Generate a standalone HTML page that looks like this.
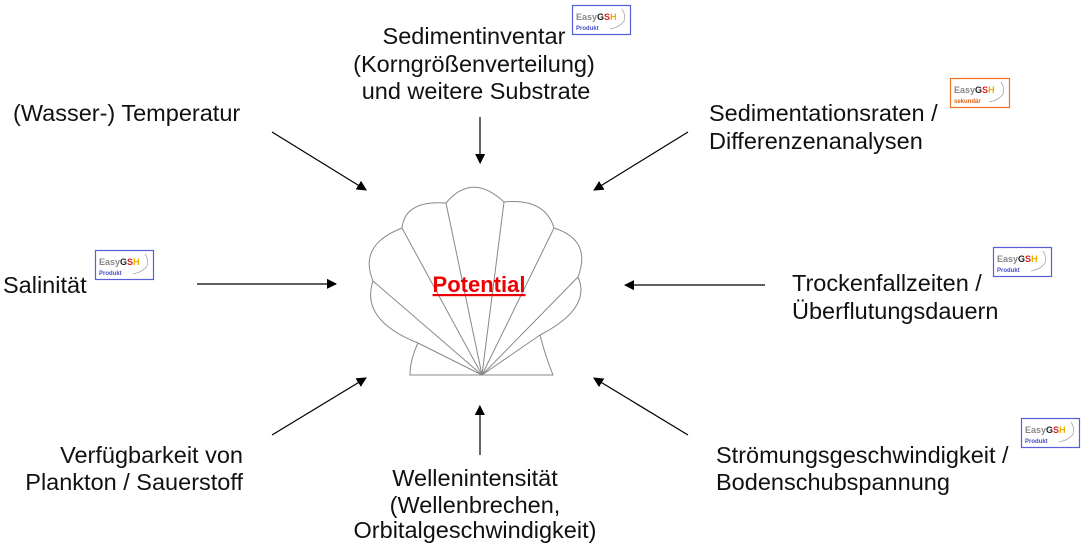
<!DOCTYPE html>
<html><head><meta charset="utf-8"><style>
html,body{margin:0;padding:0;background:#fff;}
svg{display:block;}
text{font-family:"Liberation Sans",sans-serif;font-size:23.5px;fill:#111;}
.b{font-size:9px;font-weight:bold;}
</style></head><body>
<svg width="1083" height="549" viewBox="0 0 1083 549" xmlns="http://www.w3.org/2000/svg">
<defs>
<marker id="ah" markerWidth="10" markerHeight="10" refX="9" refY="5" orient="auto" markerUnits="userSpaceOnUse" viewBox="0 0 10 10">
<path d="M0,0 L10,5 L0,10 z" fill="#000" transform="scale(1.8) translate(-4.4,-2.3)"/>
</marker>
<g id="bd">
<rect x="0.5" y="0.5" width="58" height="29" fill="#fff" stroke="#5560d8" stroke-width="1.2"/>
<text x="4" y="15" class="b" style="fill:#888">Easy<tspan style="fill:#222">G</tspan><tspan style="fill:#d22">S</tspan><tspan style="fill:#e9b000">H</tspan></text>
<text x="4" y="25" style="font-size:6px;font-weight:bold;fill:#4450c8">Produkt</text>
<path d="M50 4 Q54 10 52 16 Q48 22 38 24" fill="none" stroke="#aaa" stroke-width="0.8"/>
</g>
</defs>
<g stroke="#000" stroke-width="1.2">
<line x1="272" y1="132" x2="366" y2="190" marker-end="url(#ah)"/>
<line x1="480" y1="117" x2="480" y2="163" marker-end="url(#ah)"/>
<line x1="688" y1="132" x2="594" y2="190" marker-end="url(#ah)"/>
<line x1="197" y1="284" x2="336" y2="284" marker-end="url(#ah)"/>
<line x1="765" y1="285" x2="625" y2="285" marker-end="url(#ah)"/>
<line x1="272" y1="435" x2="366" y2="378" marker-end="url(#ah)"/>
<line x1="480" y1="455" x2="480" y2="406" marker-end="url(#ah)"/>
<line x1="688" y1="435" x2="594" y2="378" marker-end="url(#ah)"/>
</g>
<g fill="none" stroke="#888" stroke-width="1">
<path d="M418 343 Q360 320 373 281 Q358 245 402 228 Q405 200 446 203 Q472 172 504 202 Q545 198 554 228 Q592 240 578 277 Q592 308 540 335"/>
<path d="M418 343 Q410 360 410 375 L553 375 Q545 355 540 335"/>
<path d="M482 375 L446 203 M482 375 L504 202 M482 375 L402 228 M482 375 L554 228 M482 375 L373 281 M482 375 L578 277 M482 375 L418 343 M482 375 L540 335"/>
</g>
<text x="479" y="292" text-anchor="middle" style="fill:#e00;font-weight:bold;font-size:22px;text-decoration:underline">Potential</text>
<text x="13" y="121">(Wasser-) Temperatur</text>
<text x="474" y="44" text-anchor="middle">Sedimentinventar</text>
<text x="474" y="72" text-anchor="middle">(Korngrößenverteilung)</text>
<text x="476" y="99" text-anchor="middle">und weitere Substrate</text>
<text x="709" y="121">Sedimentationsraten /</text>
<text x="709" y="149">Differenzenanalysen</text>
<text x="3" y="293">Salinität</text>
<text x="792" y="291">Trockenfallzeiten /</text>
<text x="792" y="319">Überflutungsdauern</text>
<text x="243" y="463" text-anchor="end">Verfügbarkeit von</text>
<text x="243" y="490" text-anchor="end">Plankton / Sauerstoff</text>
<text x="475" y="486" text-anchor="middle">Wellenintensität</text>
<text x="475" y="513" text-anchor="middle">(Wellenbrechen,</text>
<text x="475" y="538" text-anchor="middle">Orbitalgeschwindigkeit)</text>
<text x="716" y="463">Strömungsgeschwindigkeit /</text>
<text x="716" y="490">Bodenschubspannung</text>
<use href="#bd" x="572" y="5"/>
<use href="#bd" x="95" y="250"/>
<use href="#bd" x="993" y="247"/>
<use href="#bd" x="1021" y="418"/>
<g transform="translate(950,78)">
<rect x="0.5" y="0.5" width="59" height="29" fill="#fff" stroke="#f07020" stroke-width="1.2"/>
<text x="4" y="15" class="b" style="fill:#888">Easy<tspan style="fill:#222">G</tspan><tspan style="fill:#d22">S</tspan><tspan style="fill:#e9b000">H</tspan></text>
<text x="4" y="25" style="font-size:6px;font-weight:bold;fill:#e06010">sekundär</text>
<path d="M51 4 Q55 10 53 16 Q49 22 39 24" fill="none" stroke="#aaa" stroke-width="0.8"/>
</g>
</svg>
</body></html>
